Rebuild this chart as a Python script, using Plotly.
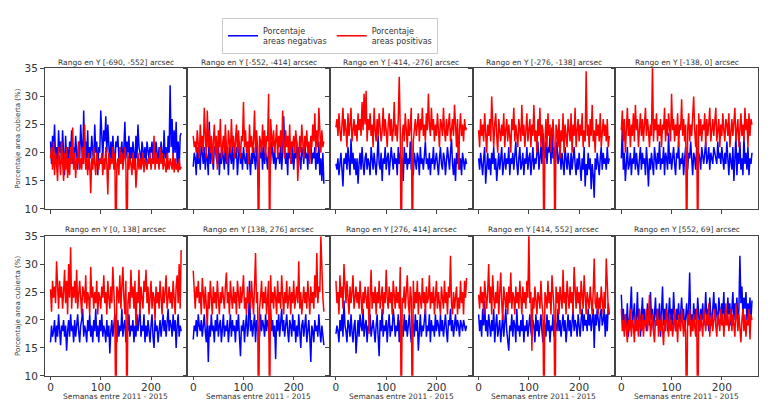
import plotly.graph_objects as go

# Weeks (x) sampled every two weeks
WEEKS = list(range(0, 262, 2))

TITLES = [
    "Rango en Y [-690, -552] arcsec",
    "Rango en Y [-552, -414] arcsec",
    "Rango en Y [-414, -276] arcsec",
    "Rango en Y [-276, -138] arcsec",
    "Rango en Y [-138, 0] arcsec",
    "Rango en Y [0, 138] arcsec",
    "Rango en Y [138, 276] arcsec",
    "Rango en Y [276, 414] arcsec",
    "Rango en Y [414, 552] arcsec",
    "Rango en Y [552, 69] arcsec",
]
Y_TICKS = [10, 15, 20, 25, 30, 35]
X_TICKS = [0, 100, 200]

NEG_1 = [22, 18, 23, 20, 25, 19, 21, 17, 24, 20,
         22, 18, 24, 21, 16, 23, 19, 21, 17, 22,
         20, 24, 18, 21, 19, 23, 20, 17, 22, 19,
         25, 21, 18, 27.5, 20, 22, 19, 24, 17, 21,
         19, 23, 21, 18, 25, 20, 22, 16, 21, 20,
         27.5, 21, 19, 24, 22, 26.5, 20, 25, 21, 18,
         22, 19, 23, 20, 17, 22, 21, 23, 19, 21,
         20, 22, 18, 21, 25.5, 19, 22, 20, 23, 18,
         21, 19, 22, 20, 17, 23, 19, 25, 21, 20,
         18, 22, 20, 19, 21, 18, 22, 20, 19, 21,
         20, 22, 18, 21, 19, 22, 20, 18, 21, 19,
         22, 20, 18, 24, 19, 21, 17, 23, 20, 32,
         21, 26, 19, 24, 20, 25.5, 18, 22, 17, 23, 23.5]
POS_1 = [19, 21, 17, 22, 16, 20, 18, 15, 21, 19,
         16, 22, 18, 15, 20, 17, 21, 15.5, 19, 16,
         21, 18, 24.5, 17, 20, 15.5, 19, 18, 22, 17,
         19, 17, 21, 18, 25, 17, 19, 16, 20, 18,
         12.8, 19, 17, 21, 18, 16, 20, 18, 17, 19,
         18, 20, 16, 19, 17, 21, 18, 12.6, 20, 17,
         19, 18, 21, 17, 20, 0, 18, 19, 16, 21,
         18, 20, 17, 19, 21, 18, 0, 20, 17, 19,
         18, 16, 20, 17, 19, 13.8, 18, 20, 17, 19,
         17, 18, 20, 16.5, 19, 18, 17, 19, 18, 20,
         17, 19, 18, 23, 17, 20, 18, 19, 17, 21,
         18, 20, 17, 19, 18, 16.5, 20, 18, 17, 19,
         18, 17, 20, 16.5, 19, 17, 18, 16.5, 19, 17, 17.5]

NEG_2 = [17.5, 20, 19, 16, 21, 18, 20, 17, 22, 19,
         18, 21, 17, 20, 19, 16, 25.5, 18, 20, 19,
         17, 21, 21, 19, 18, 22, 16, 20, 18, 21,
         19, 17, 22, 18, 20, 16, 21, 19, 18, 22,
         17, 20, 19, 21, 16, 19, 22, 18, 20, 17,
         21, 19, 18, 20, 17, 22, 19, 16, 20, 18,
         21, 19, 17, 22, 18, 13.8, 20, 19, 21, 17,
         22, 18, 20, 19, 17, 21, 19, 18, 22, 20,
         18, 21, 17, 19, 19, 20, 18, 22, 17, 20,
         26.5, 21, 18, 20, 16, 22, 19, 20, 18, 21,
         17, 20, 19, 22, 18, 21, 19, 17, 21, 20,
         18, 22, 19, 20, 17, 21, 19, 22, 18, 20,
         19, 21, 17, 20, 18, 22, 16, 19, 15, 20, 14.5]
POS_2 = [23, 21, 22, 20, 24, 22, 19, 25, 21, 23,
         20, 28, 22, 19, 27.5, 21, 24, 20, 23, 18,
         22, 25, 20, 23, 17, 24, 21, 26, 19, 22,
         23, 20, 25, 21, 18, 24, 22, 20, 26, 21,
         23, 19, 22, 25, 20, 24, 21, 19, 23, 22,
         29, 21, 24, 20, 22, 18, 25, 21, 23, 20,
         22, 27.5, 20, 24, 21, 0, 23, 22, 20, 25,
         21, 24, 19, 23, 22, 30.5, 0, 26, 23, 21,
         24, 20, 22, 25, 19, 23, 21, 24, 20, 27.5,
         22, 19, 24, 21, 23, 20, 25, 18, 22, 21,
         23, 20, 24, 22, 15, 21, 23, 20, 25, 22,
         19, 23, 21, 24, 20, 22, 18, 23, 21, 25,
         22, 27, 20, 24, 21, 28, 22, 20, 24, 21, 22]

NEG_3 = [18, 17, 19, 16, 18, 20, 17, 14, 19, 18,
         20, 17, 21, 19, 16, 22.5, 18, 20, 17, 19,
         16, 19, 14.5, 18, 20, 17, 21, 18, 16, 19,
         20, 17, 19, 18, 16, 21, 19, 17, 20, 18,
         16, 19, 23, 18, 17, 20, 15, 19, 18, 21,
         17, 19, 20, 16, 18, 21, 19, 17, 20, 18,
         19, 16, 21, 18, 20, 17, 19, 15, 21, 18,
         20, 17, 19, 18, 22, 17, 19, 16, 20, 18,
         17, 20, 19, 16, 21, 18, 19, 17, 20, 22,
         18, 19, 17, 20, 16, 19, 18, 21, 17, 19,
         20, 18, 16, 19, 21, 18, 17, 20, 19, 16,
         18, 21, 19, 17, 20, 22.5, 18, 16, 19, 15,
         20, 18, 21, 17, 19, 16, 20, 18, 17, 19, 18]
POS_3 = [24.5, 26, 23, 27, 24, 22, 25, 28, 23, 26,
         24, 21, 27, 23, 25, 28, 22, 24, 26, 23,
         25, 22, 27, 24, 26, 23, 29, 24, 30.5, 25,
         31, 22, 26, 24, 27, 23, 25, 21, 28, 24,
         22, 26, 23, 27, 25, 22, 24, 28, 23, 26,
         24, 21, 25, 27, 23, 26, 22, 24, 29, 23,
         25, 22, 26, 33.5, 24, 0, 23, 25, 22, 27,
         24, 21, 26, 23, 25, 28, 0, 22, 24, 26,
         23, 25, 27, 22, 26, 24, 28, 23, 25, 22,
         27, 24, 30.5, 25, 23, 28, 24, 26, 22, 25,
         23, 27, 24, 21, 26, 25, 23, 28, 24, 22,
         26, 23, 25, 27, 22, 24, 26, 23, 28.5, 25,
         21, 26, 17, 24, 27, 23, 25, 22, 26, 24, 24.5]

NEG_4 = [19, 17, 20, 18, 16, 19, 21, 14.5, 18, 20,
         17, 19, 16, 20, 18, 21, 17, 19, 15, 18,
         20, 17, 19, 21, 16, 18, 20, 17, 19, 18,
         21, 16, 19, 18, 20, 17, 19, 22, 18, 16,
         19, 21, 17, 18, 20, 16, 19, 18, 21, 17,
         19, 20, 16, 18, 21, 17, 19, 18, 20, 22,
         17, 19, 21, 18, 23.5, 20, 19, 22, 18, 21,
         20, 23, 18, 24.5, 19, 21, 17, 20, 22, 18,
         19, 21, 17, 20, 18, 16, 21, 19, 17, 20,
         18, 16, 20, 17, 19, 21, 18, 16, 19, 17,
         20, 18, 15, 19, 17, 21, 14, 18, 16, 20,
         17, 19, 13.5, 18, 16, 12, 19, 17, 20, 18,
         16, 19, 21, 17, 20, 18, 19, 17, 21, 18, 19]
POS_4 = [24, 21, 26, 23, 25, 22, 27, 24, 20, 25,
         23, 26, 22, 30, 24, 21, 25, 27, 23, 20,
         26, 24, 22, 25, 23, 27, 21, 24, 26, 22,
         25, 23, 20, 26, 24, 28, 22, 25, 23, 21,
         26, 24, 22, 28.5, 23, 25, 21, 24, 27, 22,
         24, 26, 21, 25, 23, 28.5, 22, 24, 20, 26,
         23, 28, 21, 25, 24, 0, 22, 26, 21, 27,
         23, 25, 20, 24, 26, 22, 0, 25, 24, 21,
         26, 19, 24, 22, 27, 20, 25, 23, 21, 26,
         24, 22, 27, 20, 25, 23, 28, 21, 24, 26,
         22, 25, 23, 27, 21, 24, 22, 34.5, 23, 25,
         21, 26, 23, 28.5, 22, 24, 20, 26, 23, 25,
         22, 27, 21, 24, 26, 23, 25, 22, 26, 21, 23]

NEG_5 = [19, 24.5, 17, 20, 15, 19, 21, 17, 18, 20,
         16, 19, 18, 21, 17, 20, 18, 16, 19, 21,
         17, 20, 18, 19, 16, 21, 18, 14, 19, 17,
         20, 18, 16, 21, 19, 17, 20, 18, 22, 17,
         19, 18, 21, 16, 20, 19, 17, 23.5, 18, 20,
         17, 19, 21, 18, 16, 20, 19, 22, 17, 19,
         18, 20, 16, 19, 21, 18, 17, 20, 19, 22,
         18, 16, 20, 19, 17, 21, 18, 20, 19, 17,
         21, 19, 18, 20, 22, 18, 19, 21, 17, 20,
         19, 18, 21, 20, 19, 18, 22, 19, 20, 18,
         21, 19, 17, 20, 18, 22, 19, 16, 20, 18,
         17, 21, 15, 19, 23, 16, 20, 18, 22, 17,
         19, 16, 23, 18, 20, 17, 21, 16, 19, 18, 20]
POS_5 = [24, 27.5, 22, 26, 20, 25, 28, 23, 26, 21,
         25, 23, 27, 22, 28.5, 24, 26, 21, 25, 27,
         23, 26, 22, 25, 28, 23, 26, 24, 21, 25,
         23, 36, 22, 26, 24, 27, 22, 25, 23, 26,
         21, 25, 24, 28, 22, 26, 23, 27, 24, 22,
         30.5, 24, 26, 22, 25, 23, 27, 21, 25, 24,
         29.5, 23, 26, 22, 25, 0, 24, 27, 22, 25,
         23, 26, 30, 24, 21, 25, 0, 27, 23, 26,
         22, 25, 24, 27, 21, 26, 23, 25, 28, 22,
         24, 26, 23, 25, 28, 22, 24, 26, 21, 25,
         23, 27, 24, 22, 26, 25, 23, 27, 21, 24,
         26, 23, 25, 28, 22, 24, 26, 21, 25, 27,
         23, 25, 22, 28, 24, 26, 21, 27, 23, 26, 25]

NEG_6 = [16, 19, 17, 18, 20, 16, 19, 17, 21, 18,
         15.5, 19, 18, 20, 17, 19, 14.5, 18, 20, 17,
         21, 18, 19, 16, 20, 17, 19, 21, 18, 16,
         19, 20, 22, 17, 19, 18, 16, 20, 18, 21,
         17, 19, 16, 20, 18, 22, 17, 19, 16, 20,
         18, 21, 17, 19, 18, 16, 20, 17, 19, 14,
         18, 20, 17, 19, 21, 18, 16, 20, 17, 19,
         18, 22, 17, 19, 20, 16, 19, 18, 21, 17,
         19, 18, 20, 16, 19, 17, 21, 18, 20, 22,
         17, 19, 18, 21, 16, 19, 17, 20, 18, 16,
         19, 21, 17, 15, 20, 18, 19, 16, 18, 20,
         17, 19, 21, 18, 20, 17, 19, 22, 18, 20,
         19, 17, 21, 18, 20, 15, 19, 21, 17, 19, 18]
POS_6 = [25.5, 21.5, 27, 24, 26, 23, 30.5, 25, 22, 27,
         24, 26, 22, 25, 29, 23, 27, 21, 30, 24,
         33, 22, 26, 24, 27, 23, 29, 22, 25, 27,
         24, 21, 26, 25, 23, 28, 22, 25, 24, 21,
         29.5, 24, 26, 22, 25, 23, 27, 21, 25, 24,
         22, 26, 24, 28, 23, 25, 21, 27, 24, 22,
         26, 23, 29.5, 24, 21, 0, 26, 25, 23, 28,
         22, 26, 29.5, 24, 21, 27, 0, 23, 25, 22,
         29, 24, 26, 22, 27, 19, 25, 23, 29, 21,
         26, 24, 22, 27, 25, 29, 23, 26, 21, 24,
         27, 22, 25, 24, 20, 26, 23, 25, 22, 27,
         24, 21, 26, 23, 25, 28, 22, 24, 26, 23,
         25, 22, 27, 24, 21, 26, 28, 23, 30, 22, 32.5]

NEG_7 = [16.5, 19, 18, 20, 17, 21, 19, 18, 20, 17,
         19, 21, 18, 16, 20, 12.5, 19, 17, 21, 18,
         19, 16, 20, 18, 21, 17, 19, 20, 16, 18,
         21, 17, 19, 18, 20, 16, 19, 21, 17, 20,
         18, 19, 16, 20, 18, 21, 17, 13.5, 19, 18,
         20, 16, 19, 21, 17, 19, 27, 18, 20, 17,
         19, 21, 16, 20, 18, 19, 17, 21, 18, 20,
         19, 17, 21, 18, 20, 19, 16, 22, 18, 20,
         17, 19, 13, 20, 18, 21, 17, 19, 22, 18,
         20, 17, 19, 21, 18, 16, 20, 19, 17, 21,
         18, 20, 16, 19, 17, 21, 18, 15, 19, 20,
         17, 19, 21, 16, 18, 20, 17, 12.5, 19, 18,
         16, 20, 18, 19, 17, 21, 18, 16, 19, 17, 15.5]
POS_7 = [28.8, 25, 22, 26, 24, 27, 23, 25, 21, 27.5,
         24, 22, 26, 23, 19, 25, 22, 27, 24, 21,
         26, 23, 25, 22, 27, 24, 21, 25, 23, 26,
         24, 22, 26, 28.5, 23, 25, 21, 27, 24, 22,
         26, 23, 25, 21, 27, 24, 22, 26, 23, 25,
         28, 22, 24, 21, 26, 23, 25, 22, 27, 24,
         21, 26, 32, 23, 25, 0, 22, 24, 27, 22,
         25, 23, 26, 21, 24, 27, 0, 28, 23, 25,
         22, 26, 24, 21, 27, 23, 25, 22, 28, 24,
         21, 25, 23, 27, 22, 24, 26, 21, 25, 23,
         27, 22, 24, 26, 23, 30.5, 22, 25, 21, 24,
         26, 23, 25, 22, 27, 24, 21, 26, 23, 25,
         22, 28, 24, 32, 23, 26, 25, 35, 29, 24, 21.5]

NEG_8 = [17.5, 19, 18, 16, 20, 18, 21, 17, 23.5, 19,
         18, 16, 20, 19, 17, 21, 18, 16, 19, 20,
         14, 18, 20, 17, 21, 19, 18, 22, 17, 19,
         20, 16, 19, 18, 21, 17, 19, 20, 18, 16,
         19, 21, 17, 13.5, 20, 18, 22, 17, 19, 18,
         20, 16, 19, 21, 17, 19, 18, 22, 20, 17,
         19, 18, 21, 16, 20, 18, 19, 17, 21, 18,
         20, 17, 19, 21, 18, 16, 20, 19, 17, 21,
         18, 20, 14.5, 19, 21, 17, 19, 18, 20, 22,
         17, 19, 18, 21, 16, 20, 18, 19, 17, 21,
         18, 20, 19, 17, 21, 18, 20, 17, 19, 21,
         18, 16, 20, 19, 22, 18, 20, 17, 19, 21,
         18, 20, 19, 17, 20, 19, 18, 20, 19, 18, 19]
POS_8 = [27, 23, 25, 21, 28, 24, 26, 22, 30, 25,
         23, 27, 24, 21, 26, 23, 25, 28, 22, 24,
         26, 23, 25, 22, 27, 24, 21, 25, 23, 26,
         24, 22, 26, 17.5, 24, 29, 22, 25, 23, 26,
         21, 25, 23, 27, 22, 24, 26, 21, 25, 23,
         29, 24, 22, 26, 23, 25, 21, 27, 24, 22,
         26, 23, 25, 22, 29.5, 0, 24, 23, 26, 22,
         25, 28, 23, 21, 26, 24, 0, 27, 22, 25,
         23, 27, 21, 25, 24, 22, 27.5, 23, 25, 21,
         26, 23, 24, 28, 22, 25, 23, 26, 21, 24,
         27, 22, 25, 23, 21, 26, 24, 22, 27, 23,
         25, 21, 26, 24, 31.5, 23, 21, 25, 22, 24,
         26, 21, 24, 22, 27, 23, 25, 21, 27, 24, 27.5]

NEG_9 = [21, 18, 20, 17, 22, 19, 23.5, 18, 20, 17,
         21, 19, 17, 20, 18, 22, 16, 19, 21, 17,
         19, 20, 16, 18, 21, 17, 19, 22, 18, 16,
         14.5, 19, 18, 21, 17, 20, 19, 16, 22, 18,
         19, 17, 20, 18, 21, 16, 19, 18, 20, 17,
         19, 21, 18, 17, 20, 19, 16, 21, 18, 20,
         17, 19, 21, 18, 16, 20, 19, 17, 21, 18,
         20, 16, 19, 18, 21, 17, 20, 19, 18, 22,
         18, 20, 17, 19, 21, 18, 20, 16, 19, 21,
         18, 20, 17, 19, 22, 18, 20, 19, 17, 21,
         19, 17, 20, 22, 18, 21, 19, 20, 18, 22,
         19, 21, 18, 20, 22, 15, 21, 19, 22, 20,
         18, 21, 22, 19, 20, 22, 17, 21, 18, 23, 21]
POS_9 = [24.5, 22, 26, 23, 25, 21, 27, 24, 22, 25,
         30, 23, 26, 21, 28, 24, 22, 25, 23, 27,
         21, 25, 28.5, 23, 20, 26, 24, 22, 25, 21,
         26, 23, 28.5, 22, 25, 24, 21, 26, 23, 25,
         22, 27, 24, 21, 26, 23, 25, 22, 27, 24,
         35.5, 23, 25, 14.5, 24, 22, 26, 23, 21, 25,
         24, 22, 27, 23, 21, 0, 25, 24, 22, 27,
         23, 25, 21, 28, 24, 22, 0, 26, 23, 25,
         21, 26, 24, 22, 29, 23, 25, 21, 27, 24,
         22, 26, 23, 25, 21, 29.5, 24, 22, 26, 23,
         25, 21, 27, 23, 22, 28, 24, 21, 25, 23,
         22, 26, 24, 21, 25, 31, 23, 22, 25, 21,
         24, 22, 26, 23, 21, 25, 22, 31, 24, 22, 21]

NEG_10 = [24.5, 20, 22, 18, 21, 19, 23, 17, 20, 22,
          26, 19, 21, 23, 18, 20, 25, 19, 22, 17,
          21, 24, 19, 22, 20, 18, 23, 21, 19, 25,
          20, 22, 18, 21, 24, 19, 22, 20, 23, 17,
          21, 26, 19, 22, 20, 23, 18, 21, 24, 20,
          22, 19, 25, 21, 18, 22, 20, 23, 19, 21,
          24, 20, 22, 18, 21, 23, 19, 22, 28.5, 20,
          21, 18, 23, 20, 22, 19, 24, 21, 18, 22,
          20, 23, 19, 21, 25, 20, 22, 18, 24, 21,
          19, 22, 25, 20, 23, 21, 19, 24, 22, 20,
          23, 21, 25, 19, 22, 20, 24, 21, 23, 19,
          22, 25, 20, 23, 21, 24, 19, 22, 31.5, 23,
          26, 21, 24, 22, 25, 20, 23, 21, 24, 20, 23.5]
POS_10 = [22, 18, 20, 17, 21, 19, 16, 20, 18, 22,
          17, 20, 19, 16, 21, 18, 20, 17, 22, 19,
          18, 21, 17, 20, 19, 22, 18, 20, 24.5, 17,
          19, 21, 18, 16, 20, 19, 22, 17, 20, 18,
          21, 19, 15.5, 20, 18, 22, 19, 17, 21, 18,
          20, 17, 19, 22, 18, 20, 16, 21, 19, 18,
          22, 19, 17, 20, 18, 0, 21, 19, 22, 17,
          20, 18, 21, 19, 17, 22, 0, 20, 18, 21,
          19, 17, 22, 20, 18, 21, 19, 23, 17, 20,
          21, 18, 20, 22, 19, 17, 21, 20, 18, 22,
          19, 21, 17, 20, 23, 19, 21, 18, 20, 22,
          18, 21, 19, 17, 23, 20, 18, 21, 19, 16,
          20, 22, 18, 21, 17, 20, 19, 22, 16.5, 21, 20]

NEG = [NEG_1, NEG_2, NEG_3, NEG_4, NEG_5, NEG_6, NEG_7, NEG_8, NEG_9, NEG_10]
POS = [POS_1, POS_2, POS_3, POS_4, POS_5, POS_6, POS_7, POS_8, POS_9, POS_10]

# The page body has an 8px default margin: size the figure to fit the
# 772x418 window and express every pixel position in page coordinates.
OFF = 8
W, H = 772 - 2 * OFF, 418 - 2 * OFF
LEFT, RIGHT = 44.5, 758
COLW = (RIGHT - LEFT) / 5
ROWS_PX = [(64, 209), (237, 381)]
TITLE_Y = [58, 230]
FONT = "DejaVu Sans"
TXT = "#333333"
FRAME = "#444444"


def px(xp):
    return (xp - OFF) / W


def py(yp):
    return 1 - (yp - OFF) / H


fig = go.Figure()
annotations = []

for k in range(10):
    r, c = divmod(k, 5)
    sfx = "" if k == 0 else str(k + 1)
    x0 = px(LEFT + c * COLW)
    x1 = px(LEFT + (c + 1) * COLW)
    top, bot = ROWS_PX[r]

    fig.add_trace(go.Scatter(
        x=WEEKS[:len(NEG[k])], y=NEG[k], mode="lines",
        line=dict(color="#0000ff", width=1.5),
        name="Porcentaje<br>areas negativas", showlegend=(k == 0),
        xaxis="x" + sfx, yaxis="y" + sfx, hoverinfo="skip"))
    fig.add_trace(go.Scatter(
        x=WEEKS[:len(POS[k])], y=POS[k], mode="lines",
        line=dict(color="#ff0000", width=1.5),
        name="Porcentaje<br>areas positivas", showlegend=(k == 0),
        xaxis="x" + sfx, yaxis="y" + sfx, hoverinfo="skip"))

    fig.layout["xaxis" + sfx] = dict(
        domain=[x0, x1], anchor="y" + sfx, range=[-12, 272],
        tickmode="array", tickvals=X_TICKS, showticklabels=(r == 1),
        ticks="outside", ticklen=3.5, tickwidth=1, tickcolor=FRAME,
        ticklabelstandoff=-2,
        showline=True, mirror=True, linecolor=FRAME, linewidth=1,
        showgrid=False, zeroline=False,
        tickfont=dict(family=FONT, size=10.5, color=TXT))
    fig.layout["yaxis" + sfx] = dict(
        domain=[py(bot), py(top)], anchor="x" + sfx, range=[10, 35],
        tickmode="array", tickvals=Y_TICKS, showticklabels=(c == 0),
        ticks="outside", ticklen=3.5, tickwidth=1, tickcolor=FRAME,
        showline=True, mirror=True, linecolor=FRAME, linewidth=1,
        showgrid=False, zeroline=False,
        tickfont=dict(family=FONT, size=10.5, color=TXT))

    xc = (x0 + x1) / 2
    annotations.append(dict(
        text=TITLES[k], x=xc, y=py(TITLE_Y[r]), xref="paper", yref="paper",
        xanchor="center", yanchor="middle", showarrow=False,
        font=dict(family=FONT, size=7.5, color=TXT)))
    if r == 1:
        annotations.append(dict(
            text="Semanas entre 2011 - 2015", x=xc, y=py(402.5),
            xref="paper", yref="paper", xanchor="center", yanchor="middle",
            showarrow=False, font=dict(family=FONT, size=7.5, color=TXT)))
    if c == 0:
        annotations.append(dict(
            text="Porcentaje area cubierta (%)", x=px(18),
            y=py((top + bot) / 2), xref="paper", yref="paper",
            xanchor="center", yanchor="middle", textangle=-90,
            showarrow=False, font=dict(family=FONT, size=7, color=TXT)))

fig.update_layout(
    width=W, height=H, autosize=False,
    margin=dict(l=0, r=0, t=0, b=0),
    paper_bgcolor="white", plot_bgcolor="white",
    annotations=annotations,
    showlegend=True,
    legend=dict(
        orientation="h", x=px(222), y=py(12), xanchor="left", yanchor="top",
        bordercolor="#cccccc", borderwidth=1, bgcolor="white",
        font=dict(family=FONT, size=8, color=TXT),
        traceorder="normal", itemwidth=30),
)

fig.write_html("out.html")
